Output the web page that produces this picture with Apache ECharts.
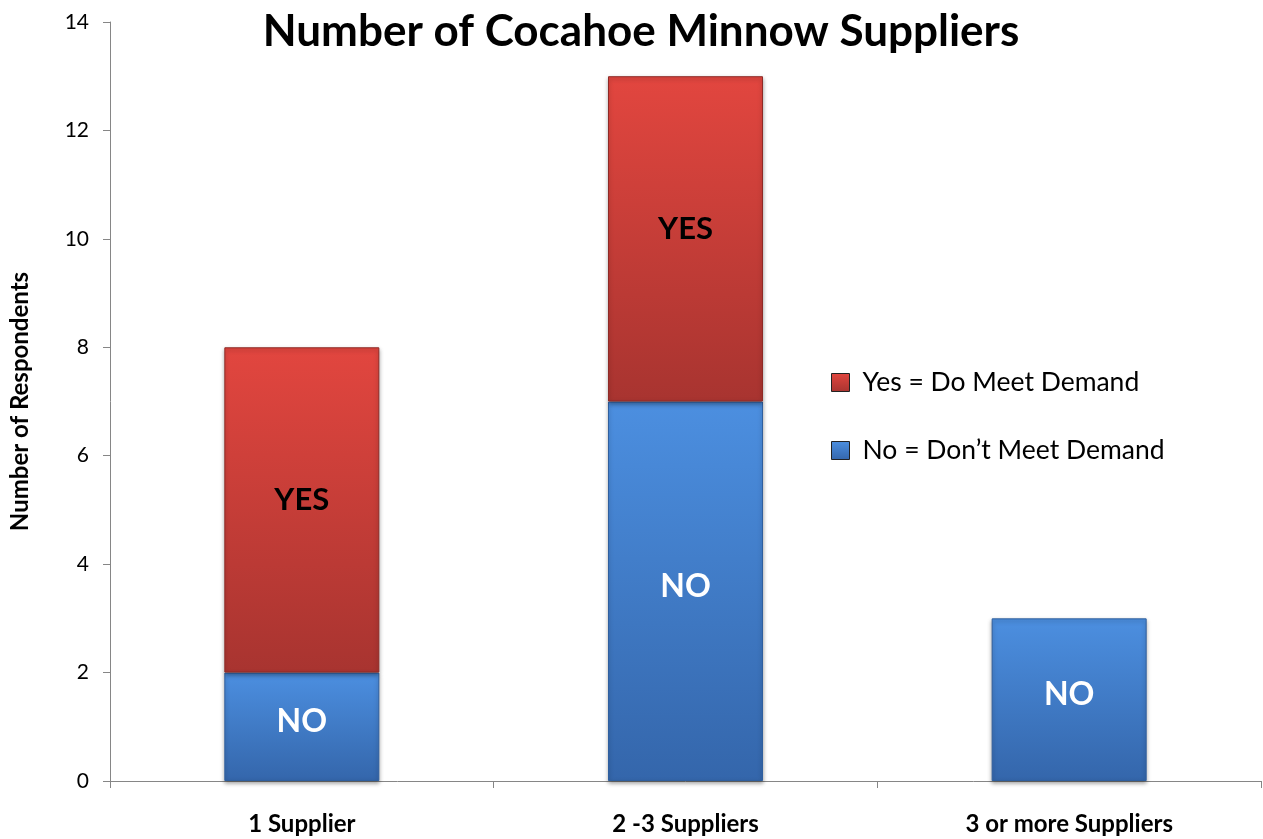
<!DOCTYPE html>
<html>
<head>
<meta charset="utf-8">
<title>Number of Cocahoe Minnow Suppliers</title>
<script src="https://cdn.jsdelivr.net/npm/echarts@6/dist/echarts.min.js"></script>
<style>
  html, body { margin: 0; padding: 0; background: #fff; }
  #chart { width: 1263px; height: 839px; }
</style>
</head>
<body>
<div id="chart"></div>
<script>
// Survey counts per supplier group
const categories = ['1 Supplier', '2 -3 Suppliers', '3 or more Suppliers'];
const noValues = [2, 7, 3];   // don't meet demand
const yesValues = [6, 6, 0];  // do meet demand
const yTicks = { min: 0, max: 14, interval: 2 };

const FONT = 'Lato, "Open Sans", sans-serif';

function vGrad(top, bottom) {
  return new echarts.graphic.LinearGradient(0, 0, 0, 1, [
    { offset: 0, color: top },
    { offset: 1, color: bottom }
  ]);
}

// empty segments get no outline so nothing shows on top of a bar
const asItems = vals => vals.map(v => (v ? v : { value: 0, itemStyle: { opacity: 0, borderWidth: 0, shadowBlur: 0 } }));

const chart = echarts.init(document.getElementById('chart'), null, { renderer: 'canvas' });

chart.setOption({
  backgroundColor: '#ffffff',
  animation: false,
  title: {
    text: 'Number of Cocahoe Minnow Suppliers',
    left: 636,
    textAlign: 'center',
    top: 5,
    textStyle: { fontFamily: FONT, fontSize: 44, fontWeight: 'bold', color: '#000' }
  },
  legend: {
    orient: 'vertical',
    left: 826,
    top: 364,
    itemWidth: 18,
    itemHeight: 18,
    itemGap: 41,
    icon: 'rect',
    data: ['Yes = Do Meet Demand', 'No = Don\u2019t Meet Demand'],
    textStyle: { fontFamily: FONT, fontSize: 26.5, color: '#000', padding: [0, 0, 0, 8] },
    itemStyle: { borderColor: '#222', borderWidth: 1 }
  },
  grid: { left: 108, right: 2, top: 22, bottom: 58, containLabel: false },
  xAxis: {
    type: 'category',
    data: categories,
    axisLine: { lineStyle: { color: '#868686', width: 1 } },
    axisTick: { show: true, alignWithLabel: false, length: 7, lineStyle: { color: '#868686' } },
    axisLabel: { fontFamily: FONT, fontSize: 24, fontWeight: 'bold', color: '#000', margin: 31 }
  },
  yAxis: {
    type: 'value',
    min: yTicks.min,
    max: yTicks.max,
    interval: yTicks.interval,
    name: 'Number of Respondents',
    nameLocation: 'middle',
    nameGap: 78,
    nameTextStyle: { fontFamily: FONT, fontSize: 24, fontWeight: 'bold', color: '#000' },
    axisLine: { show: true, lineStyle: { color: '#868686', width: 1 } },
    axisTick: { show: true, length: 7, lineStyle: { color: '#868686' } },
    splitLine: { show: false },
    axisLabel: { fontFamily: FONT, fontSize: 21, color: '#000', margin: 21 }
  },
  series: [
    {
      name: 'No = Don\u2019t Meet Demand',
      type: 'bar',
      stack: 'total',
      barWidth: 155,
      data: asItems(noValues),
      itemStyle: {
        color: vGrad('#4c8fe0', '#3466ab'),
        borderColor: '#2f5f9e',
        borderWidth: 1,
        shadowColor: 'rgba(0,0,0,0.35)',
        shadowBlur: 4,
        shadowOffsetY: 2
      },
      label: {
        show: true,
        position: 'inside',
        offset: [0, -5],
        formatter: p => (p.value ? 'NO' : ''),
        fontFamily: FONT,
        fontSize: 32,
        fontWeight: 'bold',
        color: '#ffffff'
      }
    },
    {
      name: 'Yes = Do Meet Demand',
      type: 'bar',
      stack: 'total',
      barWidth: 155,
      data: asItems(yesValues),
      itemStyle: {
        color: vGrad('#e2463f', '#a83430'),
        borderColor: '#8e2a26',
        borderWidth: 1,
        shadowColor: 'rgba(0,0,0,0.35)',
        shadowBlur: 4,
        shadowOffsetY: 2
      },
      label: {
        show: true,
        position: 'inside',
        offset: [0, -10],
        formatter: p => (p.value ? 'YES' : ''),
        fontFamily: FONT,
        fontSize: 31,
        fontWeight: 'bold',
        color: '#000000'
      }
    }
  ]
});
</script>
</body>
</html>
